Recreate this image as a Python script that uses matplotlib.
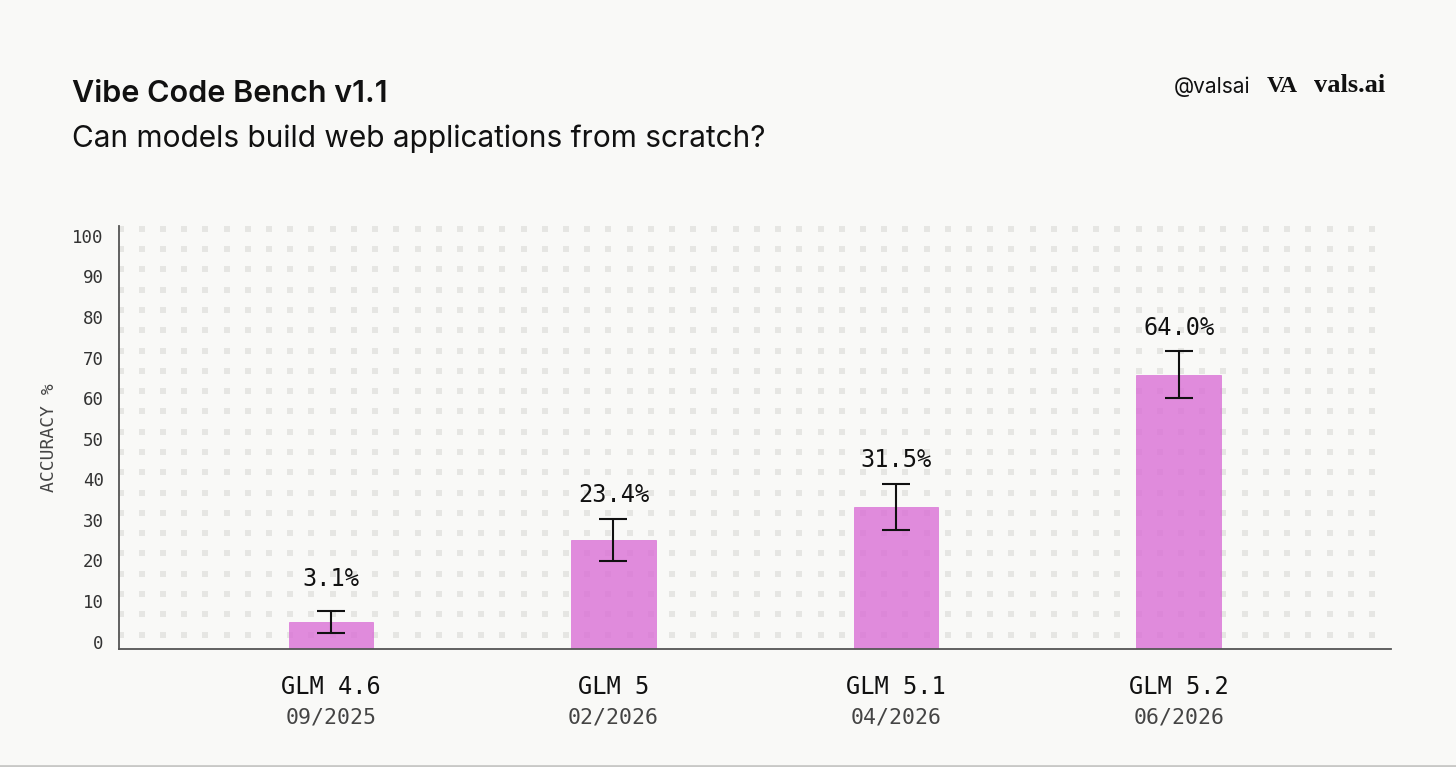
import numpy as np
import matplotlib
matplotlib.use("Agg")
import matplotlib.pyplot as plt
import matplotlib.transforms as mtransforms
from matplotlib.lines import Line2D

# data
models = ["GLM 4.6", "GLM 5", "GLM 5.1", "GLM 5.2"]
dates = ["09/2025", "02/2026", "04/2026", "06/2026"]
accuracy = [3.1, 23.4, 31.5, 64.0]
error = [2.7, 5.2, 5.7, 5.8]
yticks = [0, 10, 20, 30, 40, 50, 60, 70, 80, 90, 100]

bg = "#f9f9f7"
bar_color = "#da70d6"
mono = "DejaVu Sans Mono"
sans = "Inter"

fig = plt.figure(figsize=(14.56, 7.67), dpi=100, facecolor=bg)
ax = fig.add_axes([0.0817, 0.1538, 0.8734, 0.5515])
ax.set_facecolor(bg)

ymin, ymax = -3.55, 100.7
ax.set_xlim(-0.75, 3.75)
ax.set_ylim(ymin, ymax)

# dotted background grid (every 5 units)
gx = np.linspace(0.0013, 0.9853, 60)
gy = np.arange(0, 101, 5)
GX, GY = np.meshgrid(gx, gy)
blend = mtransforms.blended_transform_factory(ax.transAxes, ax.transData)
ax.scatter(GX.ravel(), GY.ravel(), s=14, marker="s", color="#e6e6e3",
           linewidths=0, transform=blend, zorder=0, clip_on=False)

x = np.arange(len(models))
heights = [a - ymin for a in accuracy]
ax.bar(x, heights, width=0.3, bottom=ymin, color=bar_color, alpha=0.8,
       edgecolor=bar_color, linewidth=0.6, zorder=2)
ax.errorbar(x, accuracy, yerr=error, fmt="none", ecolor="#111111",
            elinewidth=1.5, capsize=10, capthick=1.5, zorder=3)

# value labels
for xi, a, e in zip(x, accuracy, error):
    top = max(a + e, 8)
    ax.annotate(f"{a:.1f}%", (xi, top), xytext=(0, 17), textcoords="offset points",
                ha="center", va="center", fontsize=17, family=mono, color="#111111")

# x labels: model name + date
for xi, m, d in zip(x, models, dates):
    ax.annotate(m, (xi, 0), xycoords=("data", "axes fraction"), xytext=(0, -27),
                textcoords="offset points", ha="center", va="center",
                fontsize=17, family=mono, color="#111111")
    ax.annotate(d, (xi, 0), xycoords=("data", "axes fraction"), xytext=(0, -49),
                textcoords="offset points", ha="center", va="center",
                fontsize=15.5, family=mono, color="#444444")
ax.set_xticks([])

ax.set_yticks(yticks)
ax.set_yticklabels([str(t) for t in yticks], family=mono, fontsize=12.5, color="#333333")
ax.tick_params(axis="y", length=0, pad=11)
shift = mtransforms.ScaledTranslation(0, -5 / 72, fig.dpi_scale_trans)
for lab in ax.get_yticklabels():
    lab.set_transform(lab.get_transform() + shift)

ax.set_ylabel("ACCURACY %", family=mono, fontsize=13, color="#444444", labelpad=10)

for s in ["top", "right"]:
    ax.spines[s].set_visible(False)
for s in ["left", "bottom"]:
    ax.spines[s].set_color("#555555")
    ax.spines[s].set_linewidth(1.3)

# titles
fig.text(72 / 1456, 1 - 94 / 767, "Vibe Code Bench v1.1", fontsize=22, fontweight="semibold",
         family=sans, color="#111111", va="center", ha="left")
fig.text(72 / 1456, 1 - 139 / 767, "Can models build web applications from scratch?",
         fontsize=21.5, family=sans, color="#111111", va="center", ha="left")

# branding
fig.text(1250 / 1456, 1 - 87 / 767, "@valsai", fontsize=15, family=sans,
         color="#111111", va="center", ha="right")
fig.text(1267 / 1456, 1 - 87 / 767, "VA", fontsize=17, family="Liberation Serif",
         fontweight="bold", color="#111111", va="center", ha="left")
fig.text(1385 / 1456, 1 - 86 / 767, "vals.ai", fontsize=19, family="Liberation Serif",
         fontweight="bold", color="#111111", va="center", ha="right")

# bottom border
fig.add_artist(Line2D([0, 1], [0.0015, 0.0015], transform=fig.transFigure,
                      color="#c8c8c6", linewidth=2))

fig.savefig("out.png", dpi=100, facecolor=bg)
